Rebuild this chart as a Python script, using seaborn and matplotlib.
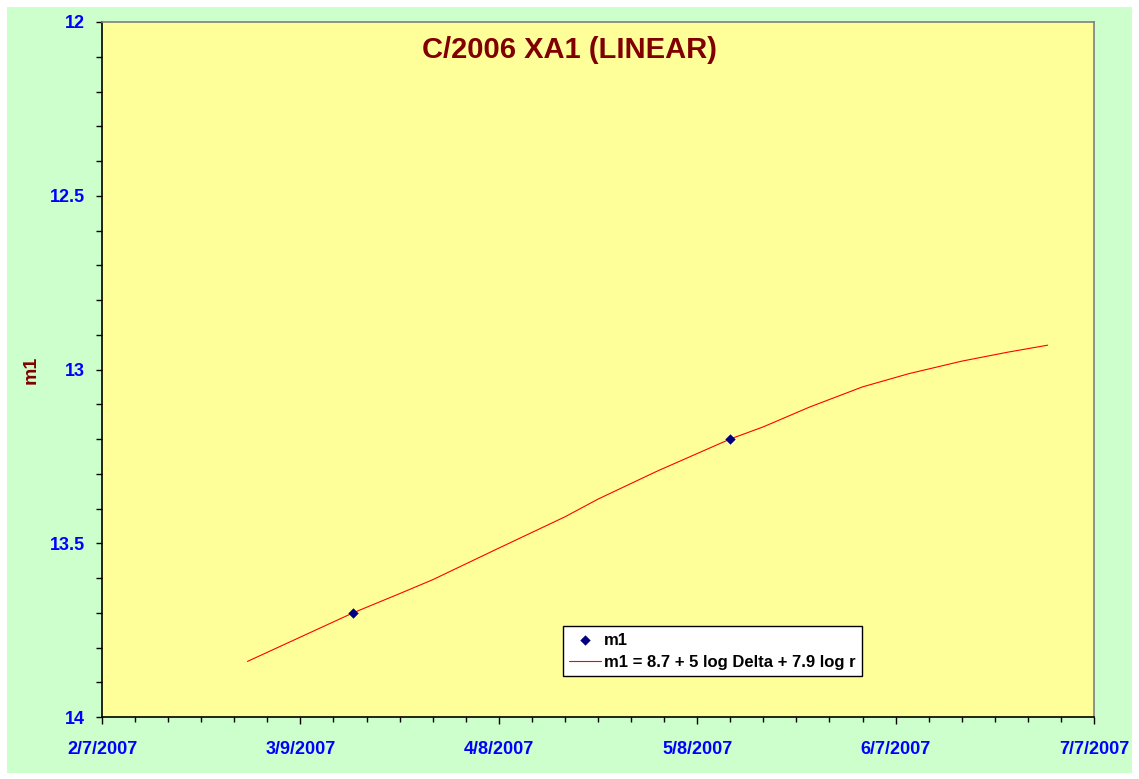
import numpy as np
import pandas as pd
import seaborn as sns
import matplotlib.pyplot as plt
import matplotlib.dates as mdates
from matplotlib.patches import Rectangle
from matplotlib.ticker import MultipleLocator, FixedLocator

# observed magnitudes
obs_dates = ["2007-03-17", "2007-05-13"]
obs_m1 = [13.70, 13.20]

# fitted light curve m1 = 8.7 + 5 log Delta + 7.9 log r
fit_dates = ["2007-03-01", "2007-03-17", "2007-03-24", "2007-03-29", "2007-04-08",
             "2007-04-18", "2007-04-23", "2007-05-02", "2007-05-13", "2007-05-18",
             "2007-05-25", "2007-06-02", "2007-06-09", "2007-06-17", "2007-06-24",
             "2007-06-30"]
fit_m1 = [13.84, 13.70, 13.645, 13.605, 13.514,
          13.424, 13.373, 13.292, 13.20, 13.165,
          13.108, 13.050, 13.012, 12.976, 12.950,
          12.93]

tick_dates = ["2007-02-07", "2007-03-09", "2007-04-08", "2007-05-08", "2007-06-07", "2007-07-07"]
tick_labels = ["2/7/2007", "3/9/2007", "4/8/2007", "5/8/2007", "6/7/2007", "7/7/2007"]

title = "C/2006 XA1 (LINEAR)"
fit_label = "m1 = 8.7 + 5 log Delta + 7.9 log r"

obs = pd.DataFrame({"date": pd.to_datetime(obs_dates), "m1": obs_m1})
fit = pd.DataFrame({"date": pd.to_datetime(fit_dates), "m1": fit_m1})

sns.set_theme(style="ticks")
plt.rcParams["font.family"] = ["Liberation Sans", "DejaVu Sans"]

W, H = 1139, 779
fig = plt.figure(figsize=(W / 100, H / 100), dpi=100)
fig.patch.set_facecolor("white")
fig.patches.append(Rectangle((7 / W, 1 - 773 / H), (1132 - 7) / W, (773 - 7) / H,
                             transform=fig.transFigure, facecolor="#CCFFCC",
                             edgecolor="none", zorder=-10))

ax = fig.add_axes([102 / W, 1 - 717 / H, (1094 - 102) / W, (717 - 22) / H])
ax.set_facecolor("#FFFF99")

sns.scatterplot(data=obs, x="date", y="m1", ax=ax, marker="D", s=28, color="#000080",
                edgecolor="#000080", linewidth=0, label="m1", zorder=3)
sns.lineplot(data=fit, x="date", y="m1", ax=ax, color="red", linewidth=0.8,
             label=fit_label, zorder=2)

ticks = mdates.date2num(pd.to_datetime(tick_dates))
ax.set_xlim(ticks[0], ticks[-1])
ax.xaxis.set_major_locator(FixedLocator(ticks))
ax.xaxis.set_minor_locator(FixedLocator(np.arange(ticks[0], ticks[-1] + 1, 5)))
ax.set_xticklabels(tick_labels)

ax.set_ylim(14, 12)
ax.yaxis.set_major_locator(MultipleLocator(0.5))
ax.yaxis.set_minor_locator(MultipleLocator(0.1))
ax.yaxis.set_major_formatter(plt.FuncFormatter(lambda v, p: f"{v:g}"))

ax.tick_params(axis="both", which="both", direction="out", color="black", width=1)
ax.tick_params(axis="x", which="major", length=5, pad=12, labelsize=13, labelcolor="#0000FF")
ax.tick_params(axis="x", which="minor", length=3.5)
ax.tick_params(axis="y", which="both", length=4, pad=8, labelsize=13, labelcolor="#0000FF")
for lab in ax.get_xticklabels() + ax.get_yticklabels():
    lab.set_fontweight("bold")

for side in ["left", "bottom"]:
    ax.spines[side].set_color("black")
    ax.spines[side].set_linewidth(1.2)
for side in ["top", "right"]:
    ax.spines[side].set_visible(True)
    ax.spines[side].set_color("#808080")
    ax.spines[side].set_linewidth(1.2)

ax.set_xlabel("")
ax.set_ylabel("m1", color="#800000", fontsize=14, fontweight="bold")
ax.yaxis.set_label_coords((40 - 102) / 992, 0.5)

fig.text(0.5, 1 - 58 / H, title, ha="center", va="baseline", fontsize=21,
         fontweight="bold", color="#800000")

leg = ax.legend(loc="lower left", bbox_to_anchor=(0.4647, 0.059), borderaxespad=0,
                frameon=True, fancybox=False, framealpha=1, edgecolor="black",
                facecolor="white", labelcolor="black", prop={"weight": "bold", "size": 12},
                handlelength=1.9, handletextpad=0.2, borderpad=0.38, labelspacing=0.42)
leg.get_frame().set_linewidth(1)

fig.savefig("out.png", dpi=100, facecolor=fig.get_facecolor())
